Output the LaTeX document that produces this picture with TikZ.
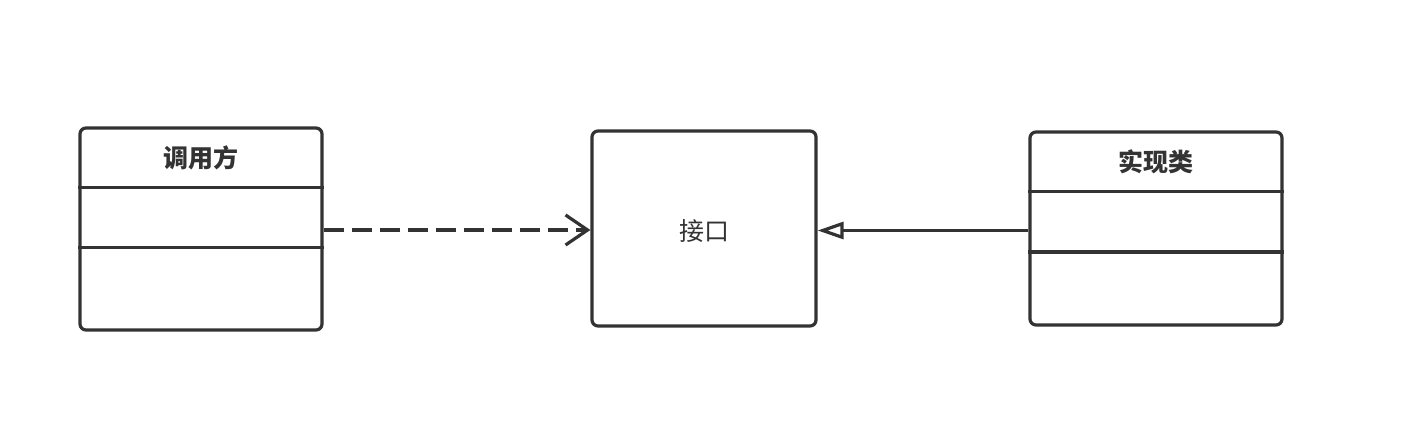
\documentclass[tikz,border=0pt]{standalone}
\usepackage{fontspec}
\newfontfamily\cjk{Noto Sans CJK SC}
\usetikzlibrary{arrows.meta}
\definecolor{ink}{HTML}{333333}

\tikzset{
  cls/.style={draw=ink, line width=1.6pt, rounded corners=3pt, inner sep=0pt},
  sep/.style={draw=ink, line width=1.6pt},
  title/.style={font=\cjk\bfseries\fontsize{12.5pt}{15pt}\selectfont, text=ink},
  label/.style={font=\cjk\fontsize{12.5pt}{15pt}\selectfont, text=ink},
}

\begin{document}
\begin{tikzpicture}[x=0.5pt,y=-0.5pt]
            \useasboundingbox (0,0) rectangle (1402,438);
            % boxes
            \node[cls, minimum width=121pt, minimum height=101pt] (caller) at (201,229) {};
            \node[cls, minimum width=112pt, minimum height=97.5pt] (iface) at (704,228.5) {};
            \node[cls, minimum width=126pt, minimum height=96.5pt] (impl) at (1156,228.5) {};
            % compartments
            \draw[sep] (caller.west |- 0,187.5) coordinate (c1) -- (caller.east |- c1);
            \draw[sep] (caller.west |- 0,247.5) coordinate (c2) -- (caller.east |- c2);
            \draw[sep] (impl.west |- 0,191.5) coordinate (i1) -- (impl.east |- i1);
            \draw[sep] (impl.west |- 0,252) coordinate (i2) -- (impl.east |- i2);
            % texts
            \node[title] (callername) at (201,158) {调用方};
            \node[title] (implname) at (1156,162) {实现类};
            \node[label] (ifacename) at (704,231) {接口};
            % relations
            \coordinate (callerport) at (caller.east |- 0,230);
            \coordinate (ifaceport) at (iface.west |- 0,230);
            \draw[ink, line width=1.6pt, dash pattern=on 10pt off 4pt,
                  -{Straight Barb[length=11pt,width=15pt,line width=1.6pt]}] (callerport) -- (ifaceport);
            \coordinate (implport) at (impl.west |- 0,230.5);
            \coordinate (ifaceback) at (iface.east |- 0,230.5);
            \draw[ink, line width=1.6pt,
                  -{Triangle[open,length=13pt,width=8.5pt,line width=1.6pt]}] (implport) -- (ifaceback);
        \end{tikzpicture}
\end{document}
